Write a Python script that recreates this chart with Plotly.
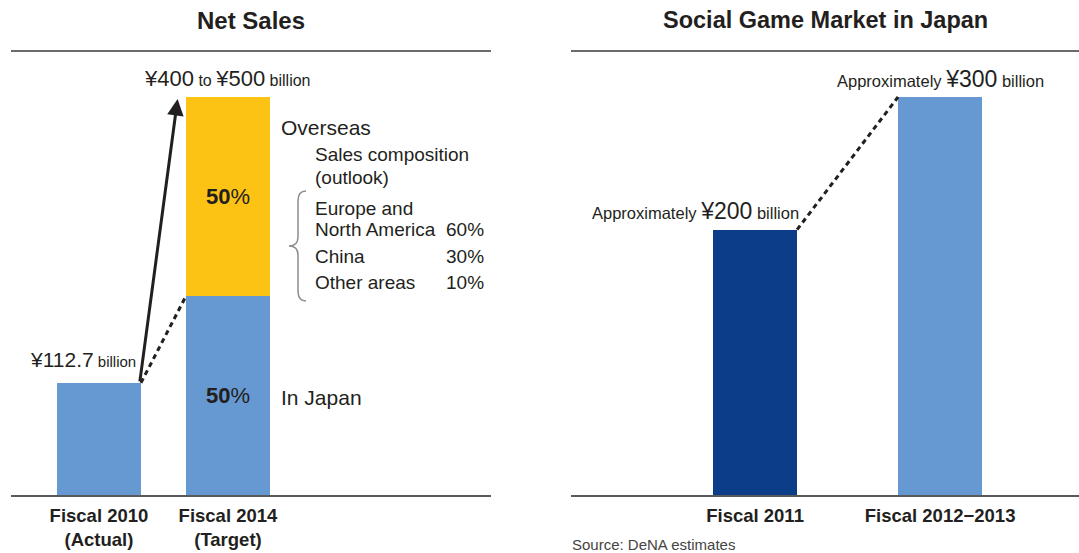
import plotly.graph_objects as go

W, H = 1079, 553

# ---- Net Sales (¥ billion) ----
sales_ticks = ["Fiscal 2010<br>(Actual)", "Fiscal 2014<br>(Target)"]
sales_2010 = 112.7
target_japan = 200.0
target_overseas = 200.0
target_range_label = ("¥400", "¥500")
japan_share = 50
overseas_share = 50
mix_regions = ["Europe and", "North America", "China", "Other areas"]
mix_shares = [None, 60, 30, 10]

# ---- Social Game Market in Japan (¥ billion) ----
market_ticks = ["Fiscal 2011", "Fiscal 2012\u22122013"]
market_values = [200, 300]

LIGHT_BLUE = "#6699d1"
DARK_BLUE = "#0b3d89"
YELLOW = "#fdc314"
INK = "#231f20"
FONT = "Liberation Sans"

BW_L = 0.651   # bar width, left panel (category units)
BW_R = 0.454   # bar width, right panel


def px_x(px):
    return px / W


def px_y(py):
    return (H - py) / H


fig = go.Figure()

# Net sales bars: Japan part (and the 2010 actual), overseas stacked on top
fig.add_trace(go.Bar(x=[0, 1], y=[sales_2010, target_japan], width=BW_L,
                     marker=dict(color=LIGHT_BLUE, line=dict(width=0)),
                     xaxis="x", yaxis="y", showlegend=False, hoverinfo="skip"))
fig.add_trace(go.Bar(x=[1], y=[target_overseas], width=BW_L,
                     marker=dict(color=YELLOW, line=dict(width=0)),
                     xaxis="x", yaxis="y", showlegend=False, hoverinfo="skip"))

# dotted trend from 2010 to the Japan share of 2014
fig.add_trace(go.Scatter(x=[BW_L / 2, 1 - BW_L / 2], y=[sales_2010, target_japan],
                         mode="lines", line=dict(color=INK, width=3, dash="5px,4px"),
                         xaxis="x", yaxis="y", showlegend=False, hoverinfo="skip"))

# Social game market bars
fig.add_trace(go.Bar(x=[0, 1], y=market_values, width=BW_R,
                     marker=dict(color=[DARK_BLUE, LIGHT_BLUE], line=dict(width=0)),
                     xaxis="x2", yaxis="y2", showlegend=False, hoverinfo="skip"))
fig.add_trace(go.Scatter(x=[BW_R / 2, 1 - BW_R / 2], y=market_values,
                         mode="lines", line=dict(color=INK, width=3, dash="5px,4px"),
                         xaxis="x2", yaxis="y2", showlegend=False, hoverinfo="skip"))

y_dom = [px_y(495), px_y(51)]
axis_common = dict(showgrid=False, zeroline=False, ticks="", showline=True,
                   linecolor="#58595b", linewidth=2, fixedrange=True,
                   ticklabelstandoff=3,
                   tickfont=dict(family=FONT, size=18.5, color=INK, weight="bold"))

target_total = target_japan + target_overseas

fig.update_layout(
    width=W, height=H, autosize=False,
    margin=dict(l=0, r=0, t=0, b=0),
    paper_bgcolor="white", plot_bgcolor="rgba(0,0,0,0)",
    barmode="stack", bargap=0,
    font=dict(family=FONT, color=INK),
    xaxis=dict(domain=[px_x(11), px_x(491)], range=[-0.682, 3.039],
               tickmode="array", tickvals=[0, 1], ticktext=sales_ticks, **axis_common),
    yaxis=dict(domain=y_dom, range=[0, target_total * 444 / 398], visible=False, fixedrange=True),
    xaxis2=dict(domain=[px_x(571), 1.0], range=[-0.995, 1.751], anchor="y2",
                tickmode="array", tickvals=[0, 1], ticktext=market_ticks, **axis_common),
    yaxis2=dict(domain=y_dom, range=[0, market_values[1] * 444 / 398], anchor="x2",
                visible=False, fixedrange=True),
)

# rules under the panel titles
for x0, x1 in [(11, 491), (571, 1079)]:
    fig.add_shape(type="line", xref="paper", yref="paper",
                  x0=px_x(x0), x1=px_x(x1), y0=px_y(51), y1=px_y(51),
                  line=dict(color="#3a3a3a", width=1.5))

# brace grouping the overseas composition
bx, bt, bm, bb = 298, 191, 246, 301
pts = [
    ("M", [(306, bt)]),
    ("Q", [(bx, bt), (bx, bt + 10)]),
    ("L", [(bx, bm - 9)]),
    ("Q", [(bx, bm), (289, bm)]),
    ("Q", [(bx, bm), (bx, bm + 9)]),
    ("L", [(bx, bb - 10)]),
    ("Q", [(bx, bb), (306, bb)]),
]
path = " ".join(cmd + " " + " ".join(f"{px_x(a):.5f},{px_y(b):.5f}" for a, b in p)
                for cmd, p in pts)
fig.add_shape(type="path", xref="paper", yref="paper", path=path,
              line=dict(color="#8c8c8c", width=1.5))

ann = []


def text(x, y, s, size, xanchor="left", bold=False, color=INK, **kw):
    ann.append(dict(x=x, y=y, text=s, showarrow=False, xanchor=xanchor,
                    yanchor=kw.pop("yanchor", "middle"),
                    xref=kw.pop("xref", "paper"), yref=kw.pop("yref", "paper"),
                    font=dict(family=FONT, size=size, color=color,
                              weight="bold" if bold else "normal"), **kw))


# panel titles
text(px_x(251), px_y(20), "Net Sales", 24, xanchor="center", bold=True)
text(px_x(825), px_y(20), "Social Game Market in Japan", 23.5, xanchor="center", bold=True)

big = "<span style='font-size:{}px'>{}</span>"

# value labels tied to the bars
text(BW_L / 2, sales_2010, big.format(21, "¥" + str(sales_2010)) + " billion", 15,
     xanchor="right", xref="x", yref="y", yanchor="bottom", xshift=-3, yshift=10)
text(1, target_total,
     big.format(22, target_range_label[0]) + " to " + big.format(22, target_range_label[1])
     + " billion", 16, xanchor="center", xref="x", yref="y", yanchor="bottom", yshift=4)
text(1, target_japan + target_overseas / 2, f"<b>{overseas_share}</b>%", 22,
     xanchor="center", xref="x", yref="y")
text(1, target_japan / 2, f"<b>{japan_share}</b>%", 22,
     xanchor="center", xref="x", yref="y")

text(0 + BW_R / 2, market_values[0],
     "Approximately " + big.format(23, f"¥{market_values[0]}") + " billion", 16.5,
     xanchor="right", xref="x2", yref="y2", yanchor="bottom", xshift=4, yshift=4)
text(1, market_values[1],
     "Approximately " + big.format(23, f"¥{market_values[1]}") + " billion", 16.5,
     xanchor="center", xref="x2", yref="y2", yanchor="bottom", yshift=3)

# overseas / Japan descriptions
text(px_x(279), px_y(127), "Overseas", 21)
text(px_x(279), px_y(397), "In Japan", 21)
text(px_x(313), px_y(155), "Sales composition", 19)
text(px_x(313), px_y(177), "(outlook)", 19)
for label, share, py in zip(mix_regions, mix_shares, [208, 229, 256, 282]):
    text(px_x(313), px_y(py), label, 19)
    if share is not None:
        text(px_x(486), px_y(py), f"{share}%", 19, xanchor="right")

text(px_x(570), 0, "Source: DeNA estimates", 15, color="#444444", yanchor="bottom",
     yshift=-2)

# growth arrow from the 2010 actual to the 2014 target
ann.append(dict(x=1 - BW_L / 2 - 0.065, y=target_total - 2,
                ax=BW_L / 2 - 0.01, ay=sales_2010,
                xref="x", yref="y", axref="x", ayref="y",
                text="", showarrow=True, arrowhead=2, arrowsize=1.1,
                arrowwidth=3, arrowcolor=INK, standoff=0, startstandoff=0))

fig.update_layout(annotations=ann)

fig.write_html("out.html")
